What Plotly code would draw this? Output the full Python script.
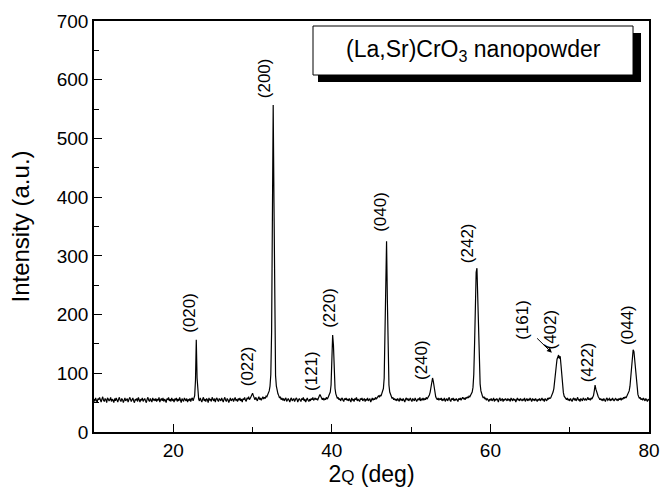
import plotly.graph_objects as go

# ---- data ----
x_start = 10.0   # 2theta of first sample (deg)
x_step = 0.1     # sampling step (deg)
intensity = [
    56,52,58,54,50,57,55,59,53,51,56,60,54,52,57,55,50,58,56,53,   # 10-12
    55,59,52,56,54,50,57,53,58,55,51,56,59,54,52,57,55,50,56,58,   # 12-14
    53,55,57,51,54,59,56,52,55,58,53,50,56,54,57,52,59,55,51,56,   # 14-16
    54,58,52,55,57,53,50,56,59,54,52,57,55,51,58,54,56,53,57,52,   # 16-18
    56,54,59,51,55,57,53,58,52,56,54,50,57,55,59,53,56,52,58,54,   # 18-20
    55,51,57,54,58,52,56,53,59,55,50,57,54,52,58,56,53,57,51,55,   # 20-22
    54,57,52,56,58,53,57,62,88,157,92,63,56,53,58,54,51,56,59,53,  # 22-24
    56,52,57,55,50,58,54,56,52,59,55,53,57,51,56,58,54,52,57,55,   # 24-26
    53,58,55,51,56,59,54,52,57,55,50,56,58,53,55,57,52,56,59,54,   # 26-28
    55,52,57,54,58,53,56,51,57,55,59,54,52,58,56,60,55,57,60,63,   # 28-30
    66,62,58,55,59,56,53,57,60,55,58,54,57,60,56,59,57,61,60,63,   # 30-32
    66,70,78,98,170,440,557,390,160,96,78,70,65,62,58,60,55,58,54,57,  # 32-34
    53,56,58,52,55,57,54,51,56,58,53,55,57,52,54,58,56,51,55,57,   # 34-36
    54,52,57,55,59,53,56,51,55,58,54,52,56,53,57,55,59,54,56,58,   # 36-38
    55,57,54,59,61,64,60,57,55,58,54,57,55,59,56,58,61,63,68,80,   # 38-40
    118,165,148,98,74,65,60,57,59,55,57,53,56,58,54,52,57,55,58,54,  # 40-42
    56,53,57,55,51,58,54,56,52,57,55,59,53,56,54,52,57,55,58,53,   # 42-44
    55,57,52,56,54,58,53,55,57,51,56,58,54,57,55,59,56,58,60,62,   # 44-46
    59,63,61,65,68,74,92,175,300,325,225,118,80,68,63,60,57,59,55,57,  # 46-48
    54,56,53,57,55,52,58,54,56,53,57,55,51,56,58,54,57,53,55,58,   # 48-50
    54,52,57,55,53,58,56,52,55,57,54,59,53,56,55,58,54,57,55,59,   # 50-52
    56,58,60,63,68,78,88,92,86,75,66,60,57,55,58,54,57,55,58,53,   # 52-54
    56,54,58,52,55,57,53,56,59,54,52,57,55,58,53,56,54,57,55,52,   # 54-56
    57,55,58,54,57,59,56,58,55,59,57,60,58,61,60,63,65,68,76,98,   # 56-58
    150,228,272,279,235,165,110,82,70,64,61,58,60,56,58,54,57,55,52,56,  # 58-60
    54,57,53,55,58,52,56,54,57,55,51,56,58,53,55,57,52,56,54,57,   # 60-62
    55,53,57,54,56,52,58,55,53,57,54,56,51,55,58,54,56,53,57,55,   # 62-64
    53,56,54,58,52,55,57,53,56,54,58,55,52,57,54,56,53,57,55,52,   # 64-66
    56,54,57,53,55,58,54,56,52,57,55,53,57,56,58,57,58,61,64,68,   # 66-68
    74,84,98,112,124,130,131,125,129,114,94,78,67,61,59,57,55,58,54,56,  # 68-70
    53,57,55,52,56,58,54,57,53,55,59,54,56,52,57,55,53,58,56,54,   # 70-72
    57,54,56,59,55,57,54,58,56,59,62,70,80,73,67,64,60,58,55,57,   # 72-74
    54,56,53,57,55,52,56,58,54,55,57,53,56,54,58,55,53,56,57,54,   # 74-76
    56,53,57,55,58,54,57,56,59,57,60,58,61,63,66,70,78,92,112,130,  # 76-78
    140,137,122,100,82,70,64,60,57,59,55,57,54,58,56,53,57,55,52,56,  # 78-80
    54,
]
two_theta = [round(x_start + x_step * i, 1) for i in range(len(intensity))]

peak_labels = ["(020)", "(022)", "(200)", "(121)", "(220)", "(040)", "(240)",
               "(242)", "(161)", "(402)", "(422)", "(044)"]
label_x = [22.1, 29.3, 31.6, 37.5, 39.6, 46.2, 51.4, 57.2, 64.1, 67.6, 72.2, 77.2]
label_y = [203, 112, 603, 104, 211, 375, 123, 322, 191, 174, 119, 182]

x_ticks = [20, 40, 60, 80]
y_ticks = [0, 100, 200, 300, 400, 500, 600, 700]

FONT = "Liberation Sans, Arial, sans-serif"

fig = go.Figure()
fig.add_trace(go.Scatter(x=two_theta, y=intensity, mode="lines",
                         line=dict(color="black", width=1.2),
                         hoverinfo="skip", showlegend=False))

for t, lx, ly in zip(peak_labels, label_x, label_y):
    fig.add_annotation(x=lx, y=ly, text=t, showarrow=False, textangle=-90,
                       xanchor="center", yanchor="middle",
                       font=dict(family=FONT, size=17, color="black"))

# arrow from (161) label to the (402) peak
fig.add_annotation(x=67.75, y=135, ax=65.7, ay=162, xref="x", yref="y",
                   axref="x", ayref="y", text="", showarrow=True,
                   arrowhead=2, arrowsize=1, arrowwidth=1, arrowcolor="black")

# title box with shadow
fig.add_shape(type="rect", xref="paper", yref="paper",
              x0=0.4036, x1=0.9856, y0=0.8516, y1=0.9708,
              fillcolor="black", line=dict(width=0), layer="above")
fig.add_shape(type="rect", xref="paper", yref="paper",
              x0=0.3946, x1=0.9712, y0=0.8686, y1=0.9878,
              fillcolor="white", line=dict(color="black", width=1), layer="above")
fig.add_annotation(xref="paper", yref="paper", x=0.683, y=0.928,
                   xanchor="center", yanchor="middle",
                   text="(La,Sr)CrO<sub>3</sub> nanopowder", showarrow=False,
                   font=dict(family=FONT, size=23, color="black"))

axis_common = dict(showline=True, linecolor="black", linewidth=1.5, mirror=True,
                   ticks="inside", ticklen=8, tickwidth=1.3, tickcolor="black",
                   showgrid=False, zeroline=False, ticklabeloverflow="allow",
                   automargin=False,
                   tickfont=dict(family=FONT, size=19, color="black"))

fig.update_layout(
    width=662, height=490,
    margin=dict(l=94, r=13, t=21, b=58, autoexpand=False),
    paper_bgcolor="white", plot_bgcolor="white",
    xaxis=dict(range=[10, 80], tickvals=x_ticks,
               minor=dict(tickvals=[30, 50, 70], ticks="inside", ticklen=5,
                          tickwidth=1.3, tickcolor="black"),
               title=dict(text="2<span style='font-size:17px'>Q</span> (deg)",
                          font=dict(family=FONT, size=23, color="black"), standoff=2),
               **axis_common),
    yaxis=dict(range=[0, 700], tickvals=y_ticks,
               minor=dict(tickvals=[50, 150, 250, 350, 450, 550, 650], ticks="inside",
                          ticklen=5, tickwidth=1.3, tickcolor="black"),
               title=dict(text="Intensity (a.u.)",
                          font=dict(family=FONT, size=24, color="black"), standoff=20),
               **axis_common),
)

fig.write_html("out.html", config={"displayModeBar": False},
               post_script="document.body.style.margin='0';"
                           "document.body.style.overflow='hidden';")
